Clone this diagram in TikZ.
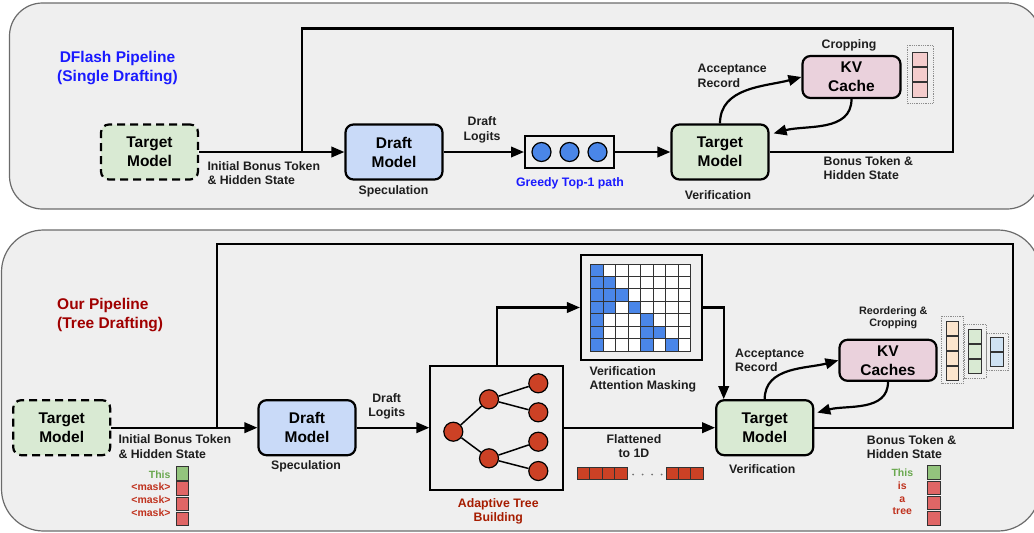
\documentclass[tikz,border=0pt]{standalone}
\usepackage{fontspec}
\setmainfont{Liberation Sans}
\usetikzlibrary{arrows.meta,calc}

\definecolor{panelfill}{HTML}{EFEFEF}
\definecolor{panelline}{HTML}{6B6B6B}
\definecolor{tgtgreen}{HTML}{D9EAD3}
\definecolor{drftblue}{HTML}{C9DAF8}
\definecolor{kvpink}{HTML}{EAD1DC}
\definecolor{titleblue}{HTML}{1A1AFF}
\definecolor{titlered}{HTML}{A00000}
\definecolor{treered}{HTML}{A61C00}
\definecolor{nodered}{HTML}{CC4125}
\definecolor{maskblue}{HTML}{4A86E8}
\definecolor{tokgreen}{HTML}{93C47D}
\definecolor{tokred}{HTML}{E06666}
\definecolor{txtgreen}{HTML}{6AA84F}
\definecolor{txtred}{HTML}{C0321E}
\definecolor{cachepink}{HTML}{F4CCCC}
\definecolor{cacheorange}{HTML}{FCE5CD}
\definecolor{cachegreen}{HTML}{D9EAD3}
\definecolor{cacheblue}{HTML}{CFE2F3}
\definecolor{inkgray}{HTML}{1E1E1E}

\tikzset{
  panel/.style={draw=panelline, line width=1.2pt, fill=panelfill},
  modelbox/.style={draw=black, line width=2.2pt, rounded corners=8pt,
    minimum width=97pt, minimum height=55pt, inner sep=0pt, align=center,
    font=\fontsize{15.5}{19}\selectfont\bfseries},
  dashbox/.style={modelbox, dash pattern=on 8pt off 5pt},
  conn/.style={draw=black, line width=2.2pt},
  arr/.style={conn, -{Triangle[length=13pt,width=10.5pt]}},
  lbl/.style={inner sep=0pt, text=inkgray, font=\fontsize{12.3}{14.7}\selectfont\bfseries},
  title/.style={inner sep=0pt, font=\fontsize{15.5}{18.5}\selectfont\bfseries},
  tokfont/.style={inner sep=0pt, font=\fontsize{10.5}{13}\selectfont\bfseries},
  frame/.style={draw=black, line width=2pt, inner sep=0pt},
  bead/.style={circle, draw=black, line width=1.2pt, minimum size=19pt, inner sep=0pt},
  treeedge/.style={draw=black, line width=1.5pt},
  cell/.style={draw=black!80, line width=0.9pt},
  tok/.style={draw=black!80, line width=0.9pt},
  holder/.style={draw=black!45, line width=0.8pt, densely dotted},
}

\begin{document}
\begin{tikzpicture}[x=1pt,y=-1pt]
\useasboundingbox (0,0) rectangle (1034,533);

% ================= upper panel: single drafting =================
\path[panel, rounded corners=33pt] (9.5,3) rectangle (1040,209);
\node[title, text=titleblue, align=center] (titleA) at (117.5,68) {DFlash Pipeline\\(Single Drafting)};

\node[dashbox, fill=tgtgreen] (tgtA) at (149.5,152) {Target\\Model};
\node[modelbox, fill=drftblue] (drfA) at (394,152) {Draft\\Model};
\node[frame, minimum width=89pt, minimum height=32pt] (pathA) at (569.5,152) {};
\foreach \i/\x in {1/541.5,2/569.5,3/597.5}
  \node[bead, fill=maskblue] (g\i) at (\x,152) {};
\node[modelbox, fill=tgtgreen] (verA) at (720,152) {Target\\Model};
\node[modelbox, fill=kvpink, minimum width=98pt, minimum height=42pt] (kvA) at (851.5,77) {KV\\Cache};

% cache blocks kept after cropping
\path[holder] (907,45) rectangle (933,103);
\foreach \k in {0,1,2}
  \path[tok, fill=cachepink] (912,52+\k*15.3) rectangle ++(15,14.6);

\node[lbl, anchor=west, align=left] (ibA) at (207.3,173) {Initial Bonus Token\\\& Hidden State};
\node[lbl] (specA) at (393.5,191) {Speculation};
\node[lbl, align=center] (dlA) at (482,129.5) {Draft\\Logits};
\node[lbl, text=titleblue] (gpA) at (570,183) {Greedy Top-1 path};
\node[lbl] (vfA) at (718,195) {Verification};
\node[lbl, anchor=west, align=left] (arA) at (697.5,76) {Acceptance\\Record};
\node[lbl] (crA) at (849,45) {Cropping};
\node[lbl, anchor=west, align=left] (btA) at (823.5,168) {Bonus Token \&\\Hidden State};

\coordinate (joinA) at (302,152);
\coordinate (cornerA) at (953,28.5);
\draw[arr] (tgtA.east) -- (drfA.west);
\draw[arr] (drfA.east) -- (pathA.west);
\draw[arr] (pathA.east) -- (verA.west);
\draw[conn] (verA.east) -| (cornerA) -| (joinA);
\draw[arr] (verA.north) to[out=90,in=195] (kvA.west);
\draw[arr] (kvA.south) to[out=-90,in=15] ($(verA.north east)+(4,10)$);

% ================= lower panel: tree drafting =================
\path[panel, rounded corners=42pt] (1.5,230) rectangle (1040,531);
\node[title, text=titlered, align=left, anchor=west] (titleB) at (57,315) {Our Pipeline\\(Tree Drafting)};

\node[dashbox, fill=tgtgreen] (tgtB) at (61.7,427.7) {Target\\Model};
\node[modelbox, fill=drftblue] (drfB) at (307,427.7) {Draft\\Model};
\node[frame, minimum width=132.7pt, minimum height=124.4pt] (treeB) at (496.7,427.7) {};
\node[modelbox, fill=tgtgreen] (verB) at (764.7,427.7) {Target\\Model};
\node[modelbox, fill=kvpink, minimum height=41pt] (kvB) at (888,360.3) {KV\\Caches};

% draft tree
\node[bead, fill=nodered] (n0) at (453.3,431.7) {};
\node[bead, fill=nodered] (n1) at (489,399.3) {};
\node[bead, fill=nodered] (n2) at (489,458.3) {};
\node[bead, fill=nodered] (n11) at (538.3,383.3) {};
\node[bead, fill=nodered] (n12) at (538.3,412.3) {};
\node[bead, fill=nodered] (n21) at (538.3,441.7) {};
\node[bead, fill=nodered] (n22) at (538.3,471) {};
\draw[treeedge] (n0) -- (n1);
\draw[treeedge] (n0) -- (n2);
\draw[treeedge] (n1) -- (n11);
\draw[treeedge] (n1) -- (n12);
\draw[treeedge] (n2) -- (n21);
\draw[treeedge] (n2) -- (n22);

% tree attention mask
\node[frame, minimum width=120.7pt, minimum height=104.7pt] (maskB) at (641.3,307.5) {};
\foreach \r in {0,...,6}
  \foreach \c in {0,...,7}
    \path[cell, fill=white] (590.7+\c*12.5,264+\r*12.43) rectangle ++(12.5,12.43);
\foreach \c/\r in {0/0,0/1,1/1,0/2,1/2,2/2,0/3,1/3,3/3,0/4,4/4,0/5,4/5,5/5,0/6,4/6,6/6}
  \path[cell, fill=maskblue] (590.7+\c*12.5,264+\r*12.43) rectangle ++(12.5,12.43);

% flattened token sequence
\foreach \k in {0,...,3}
  \path[tok, fill=nodered] (577.3+\k*12.5,467.3) rectangle ++(12.5,12);
\foreach \k in {0,...,2}
  \path[tok, fill=nodered] (666+\k*12.4,467.3) rectangle ++(12.4,12);
\foreach \x in {633,642.5,652,661.5}
  \fill[black!55] (\x,474.5) circle (1pt);

% KV cache blocks after reordering
\path[holder] (941.5,316) rectangle (963.5,383);
\foreach \k in {0,...,3}
  \path[tok, fill=cacheorange] (946,321+\k*15.2) rectangle ++(12.7,14.2);
\path[holder] (964.5,324.3) rectangle (986,378.3);
\foreach \k in {0,1,2}
  \path[tok, fill=cachegreen] (968.3,329+\k*15) rectangle ++(12.7,14);
\path[holder] (986.5,333.3) rectangle (1008.3,370.7);
\foreach \k in {0,1}
  \path[tok, fill=cacheblue] (990.7,337.7+\k*14.6) rectangle ++(12.6,13.8);

% token columns
\foreach \k/\f in {0/tokgreen,1/tokred,2/tokred,3/tokred}
  \path[tok, fill=\f] (176,466.7+\k*15.2) rectangle ++(12.7,13.6);
\node[tokfont, text=txtgreen, anchor=base east] (inT) at (170.7,478) {This};
\node[tokfont, text=txtred, anchor=base east] (inM1) at (170.7,490.7) {<mask>};
\node[tokfont, text=txtred, anchor=base east] (inM2) at (170.7,503.4) {<mask>};
\node[tokfont, text=txtred, anchor=base east] (inM3) at (170.7,516.1) {<mask>};

\foreach \k/\f in {0/tokgreen,1/tokred,2/tokred,3/tokred}
  \path[tok, fill=\f] (927.7,465.7+\k*15.3) rectangle ++(12.4,13.6);
\node[tokfont, text=txtgreen, anchor=base] (outA) at (902.3,476.5) {This};
\node[tokfont, text=txtred, anchor=base] (outB) at (902.3,489.3) {is};
\node[tokfont, text=txtred, anchor=base] (outC) at (902.3,502.1) {a};
\node[tokfont, text=txtred, anchor=base] (outD) at (902.3,514.9) {tree};

% labels
\node[lbl, anchor=west, align=left] (ibB) at (118.3,446.8) {Initial Bonus Token\\\& Hidden State};
\node[lbl] (specB) at (306,466.3) {Speculation};
\node[lbl, align=center] (dlB) at (386.7,406.2) {Draft\\Logits};
\node[lbl, text=treered, align=center] (atB) at (498.3,511.2) {Adaptive Tree\\Building};
\node[lbl, anchor=west, align=left] (vamB) at (589.3,379.2) {Verification\\Attention Masking};
\node[lbl, align=center] (flB) at (634,446.2) {Flattened\\to 1D};
\node[lbl] (vfB) at (762.3,469) {Verification};
\node[lbl, anchor=west, align=left] (arB) at (735,360.2) {Acceptance\\Record};
\node[lbl, align=center, font=\fontsize{10.8}{12.7}\selectfont\bfseries] (rcB) at (893.3,317.7) {Reordering \&\\Cropping};
\node[lbl, anchor=west, align=left] (btB) at (866.7,447.2) {Bonus Token \&\\Hidden State};

% connectors
\coordinate (joinB) at (217.3,427.7);
\coordinate (cornerB) at (1013.3,244.3);
\draw[arr] (tgtB.east) -- (drfB.west);
\draw[arr] (drfB.east) -- (treeB.west);
\draw[arr] (treeB.east) -- (verB.west);
\draw[arr] (treeB.north) |- (maskB.west);
\draw[arr] (maskB.east) -| ($(verB.north west)+(8.6,0)$);
\draw[conn] (verB.east) -| (cornerB) -| (joinB);
\draw[arr] (verB.north) to[out=90,in=195] (kvB.west);
\draw[arr] (kvB.south) to[out=-90,in=15] ($(verB.north east)+(3,13.5)$);
\end{tikzpicture}
\end{document}
